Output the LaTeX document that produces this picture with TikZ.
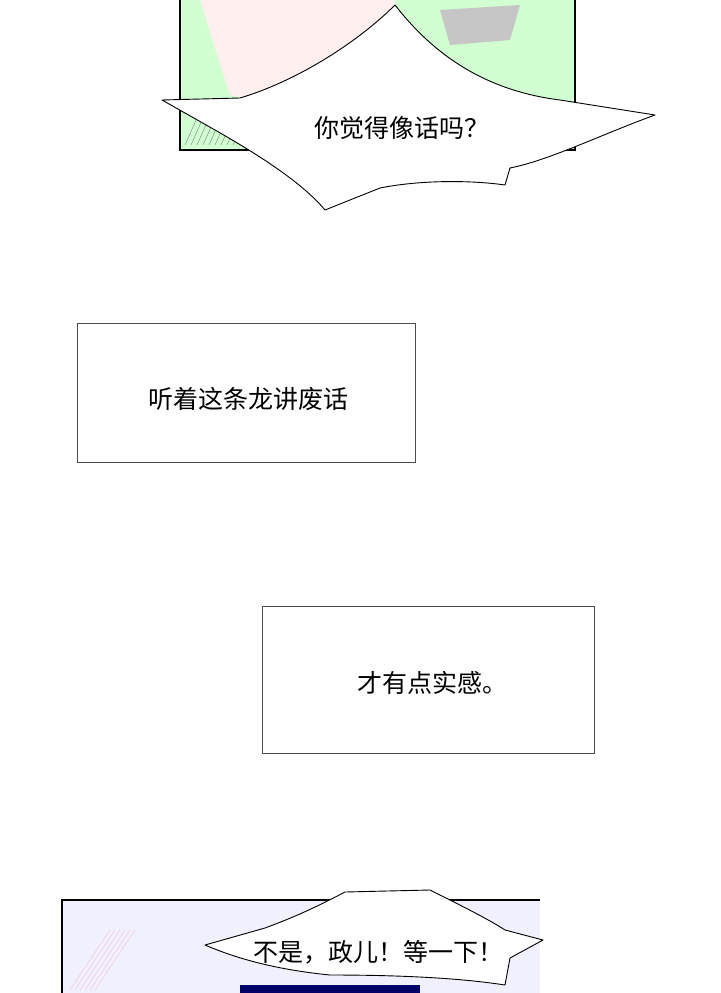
\documentclass[tikz,border=0pt]{standalone}
\usepackage{fontspec}
\setmainfont{Noto Sans CJK SC}
\begin{document}
\begin{tikzpicture}[x=1pt,y=-1pt,
  captext/.style={font=\fontsize{25}{28}\selectfont},
  boxx/.style={draw=black!70,line width=0.8pt,fill=white},
  bubble/.style={draw=black,line width=0.9pt,fill=white,line join=round}]
\useasboundingbox (0,0) rectangle (720,993);
% top panel
\fill[green!18!white] (180,0) rectangle (575,150);
\fill[pink!25!white] (200,0) -- (395,0) -- (400,60) -- (300,110) -- (230,95) -- cycle;
\fill[gray!45] (440,10) -- (520,5) -- (510,40) -- (450,45) -- cycle;
\foreach \i in {0,...,8} \draw[black!50,line width=0.4pt] (185+\i*6,145) -- (205+\i*6,100);
\draw[line width=2pt] (180,0) -- (180,150) -- (575,150) -- (575,0);
\draw[bubble] (162,100) -- (240,98) .. controls (300,80) and (360,40) .. (395,5)
  .. controls (430,50) and (480,90) .. (560,100) -- (655,115)
  .. controls (600,135) and (550,160) .. (510,168) -- (505,185)
  .. controls (470,180) and (420,180) .. (380,188) -- (325,210)
  .. controls (300,180) and (250,150) .. (215,130) -- cycle;
\node[captext] (t1) at (402,128) {你觉得像话吗？};
% boxes
\node[boxx,minimum width=338pt,minimum height=139pt] (box1) at (246,392.5) {};
\node[captext] (l1) at (248,399) {听着这条龙讲废话};
\node[boxx,minimum width=332pt,minimum height=147pt] (box2) at (428,679.5) {};
\node[captext] (l2) at (432,683) {才有点实感。};
% bottom panel
\fill[blue!6!white] (62,900) rectangle (540,993);
\fill[blue!40!black] (240,985) rectangle (420,993);
\foreach \i in {0,...,5} \draw[pink!60!purple!40,line width=0.5pt] (70+\i*5,990) -- (110+\i*5,930);
\draw[line width=2pt] (62,993) -- (62,900) -- (540,900);
\draw[bubble] (205,945) -- (265,928) .. controls (300,915) and (320,905) .. (345,892)
  -- (430,890) .. controls (460,905) and (490,920) .. (505,930) -- (543,940)
  -- (510,958) -- (505,985) .. controls (460,978) and (400,975) .. (330,975)
  .. controls (280,970) and (240,960) .. (205,945) -- cycle;
\node[captext] (t2) at (378,952) {不是，政儿！等一下！};
\end{tikzpicture}
\end{document}
